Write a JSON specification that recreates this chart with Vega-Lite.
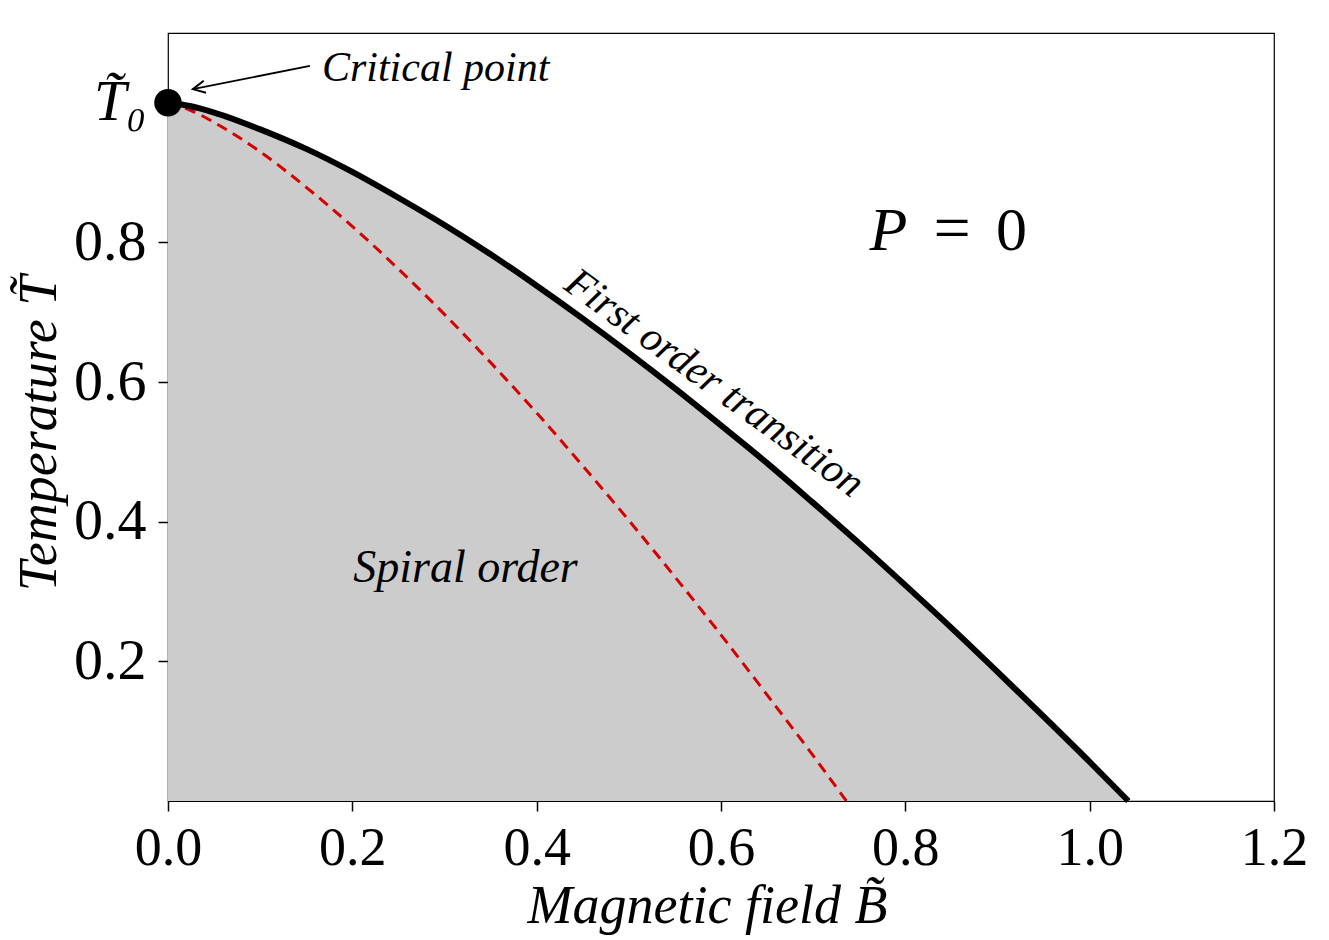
{
  "$schema": "https://vega.github.io/schema/vega-lite/v6.json",
  "width": 1106,
  "height": 768,
  "autosize": {"type": "none"},
  "padding": {"left": 168, "top": 33, "right": 55, "bottom": 139},
  "background": "white",
  "config": {
    "view": {"stroke": "black", "strokeWidth": 1.2},
    "font": "Liberation Serif"
  },
  "datasets": {
    "boundary": [
      {"B": 0, "T": 1}, {"B": 0.025, "T": 0.995}, {"B": 0.05, "T": 0.986}, {"B": 0.1, "T": 0.962},
      {"B": 0.15, "T": 0.934}, {"B": 0.2, "T": 0.901}, {"B": 0.25, "T": 0.864}, {"B": 0.3, "T": 0.825},
      {"B": 0.35, "T": 0.783}, {"B": 0.4, "T": 0.738}, {"B": 0.45, "T": 0.691}, {"B": 0.5, "T": 0.642},
      {"B": 0.55, "T": 0.591}, {"B": 0.6, "T": 0.538}, {"B": 0.65, "T": 0.484}, {"B": 0.7, "T": 0.427},
      {"B": 0.75, "T": 0.369}, {"B": 0.8, "T": 0.309}, {"B": 0.85, "T": 0.248}, {"B": 0.9, "T": 0.185},
      {"B": 0.95, "T": 0.121}, {"B": 1.0, "T": 0.056}, {"B": 1.042, "T": 0}
    ],
    "spinodal": [
      {"B": 0, "T": 1}, {"B": 0.025, "T": 0.989}, {"B": 0.05, "T": 0.972}, {"B": 0.1, "T": 0.930},
      {"B": 0.15, "T": 0.879}, {"B": 0.2, "T": 0.823}, {"B": 0.25, "T": 0.762}, {"B": 0.3, "T": 0.697},
      {"B": 0.35, "T": 0.628}, {"B": 0.4, "T": 0.556}, {"B": 0.45, "T": 0.480}, {"B": 0.5, "T": 0.402},
      {"B": 0.55, "T": 0.321}, {"B": 0.6, "T": 0.238}, {"B": 0.65, "T": 0.152}, {"B": 0.7, "T": 0.065},
      {"B": 0.736, "T": 0}
    ]
  },
  "encoding": {
    "x": {
      "field": "B", "type": "quantitative",
      "scale": {"domain": [0, 1.2], "nice": false, "zero": false},
      "axis": {
        "values": [0, 0.2, 0.4, 0.6, 0.8, 1.0, 1.2], "format": ".1f",
        "domain": false, "grid": false, "labelFlush": false, "labelOverlap": false, "labelBound": false,
        "labelFont": "Liberation Serif", "labelFontSize": 54, "labelColor": "black", "labelPadding": 10,
        "tickColor": "black", "tickSize": 10, "tickWidth": 1.5,
        "title": "Magnetic field B̃", "titleFont": "Liberation Serif", "titleFontSize": 54,
        "titleFontStyle": "italic", "titleFontWeight": "normal", "titleColor": "black",
        "titleX": 539, "titleY": 121, "titleAlign": "center", "titleBaseline": "alphabetic"
      }
    },
    "y": {
      "field": "T", "type": "quantitative",
      "scale": {"domain": [0, 1.1], "nice": false, "zero": false},
      "axis": {
        "values": [0.2, 0.4, 0.6, 0.8, 1.0],
        "labelExpr": "datum.value == 1 ? 'T̃₀' : format(datum.value, '.1f')",
        "labelFontStyle": {"condition": {"test": "datum.value == 1", "value": "italic"}, "value": "normal"},
        "domain": false, "grid": false, "labelOverlap": false, "labelBound": false,
        "labelFont": "Liberation Serif", "labelFontSize": 58, "labelColor": "black", "labelPadding": 12,
        "tickColor": "black", "tickSize": 10, "tickWidth": 1.5,
        "title": "Temperature T̃", "titleFont": "Liberation Serif", "titleFontSize": 54,
        "titleFontStyle": "italic", "titleFontWeight": "normal", "titleColor": "black",
        "titleAngle": -90, "titleX": -113, "titleY": 400, "titleAlign": "center", "titleBaseline": "alphabetic"
      }
    }
  },
  "layer": [
    {
      "data": {"name": "boundary"},
      "mark": {"type": "area", "color": "#cccccc", "interpolate": "monotone"}
    },
    {
      "data": {"name": "spinodal"},
      "mark": {"type": "line", "color": "#d40000", "strokeWidth": 3, "strokeDash": [11, 7], "interpolate": "monotone"}
    },
    {
      "data": {"name": "boundary"},
      "mark": {"type": "line", "color": "black", "strokeWidth": 6, "interpolate": "monotone"}
    },
    {
      "data": {"values": [{"B": 0, "T": 1}]},
      "mark": {"type": "point", "filled": true, "color": "black", "opacity": 1, "size": 760}
    },
    {
      "data": {"values": [{"B": 0.154, "T": 1.053, "B2": 0.027, "T2": 1.0196}]},
      "mark": {"type": "rule", "color": "black", "strokeWidth": 1.8},
      "encoding": {"x2": {"field": "B2"}, "y2": {"field": "T2"}}
    },
    {
      "data": {"values": [{"B": 0.027, "T": 1.0196}]},
      "mark": {"type": "point", "shape": "M -1 -0.5 L 0 0 L -1 0.5", "filled": false, "color": "black", "strokeWidth": 2, "opacity": 1, "size": 600, "angle": 168.8}
    },
    {
      "data": {"values": [{"B": 0.167, "T": 1.031, "label": "Critical point"}]},
      "mark": {"type": "text", "font": "Liberation Serif", "fontSize": 42, "fontStyle": "italic", "align": "left", "baseline": "alphabetic", "color": "black"},
      "encoding": {"text": {"field": "label"}}
    },
    {
      "data": {"values": [{"B": 0.761, "T": 0.789, "label": "P"}]},
      "mark": {"type": "text", "font": "Liberation Serif", "fontSize": 62, "fontStyle": "italic", "align": "left", "baseline": "alphabetic", "color": "black"},
      "encoding": {"text": {"field": "label"}}
    },
    {
      "data": {"values": [{"B": 0.8305, "T": 0.789, "label": "="}]},
      "mark": {"type": "text", "font": "Liberation Serif", "fontSize": 66, "align": "left", "baseline": "alphabetic", "color": "black"},
      "encoding": {"text": {"field": "label"}}
    },
    {
      "data": {"values": [{"B": 0.8985, "T": 0.789, "label": "0"}]},
      "mark": {"type": "text", "font": "Liberation Serif", "fontSize": 62, "align": "left", "baseline": "alphabetic", "color": "black"},
      "encoding": {"text": {"field": "label"}}
    },
    {
      "data": {"values": [{"B": 0.201, "T": 0.314, "label": "Spiral order"}]},
      "mark": {"type": "text", "font": "Liberation Serif", "fontSize": 46, "fontStyle": "italic", "align": "left", "baseline": "alphabetic", "color": "black"},
      "encoding": {"text": {"field": "label"}}
    },
    {
      "data": {"values": [{"B": 0.593, "T": 0.599, "label": "First order transition"}]},
      "mark": {"type": "text", "font": "Liberation Serif", "fontSize": 42, "fontStyle": "italic", "align": "center", "baseline": "middle", "angle": 36, "color": "black"},
      "encoding": {"text": {"field": "label"}}
    }
  ]
}
